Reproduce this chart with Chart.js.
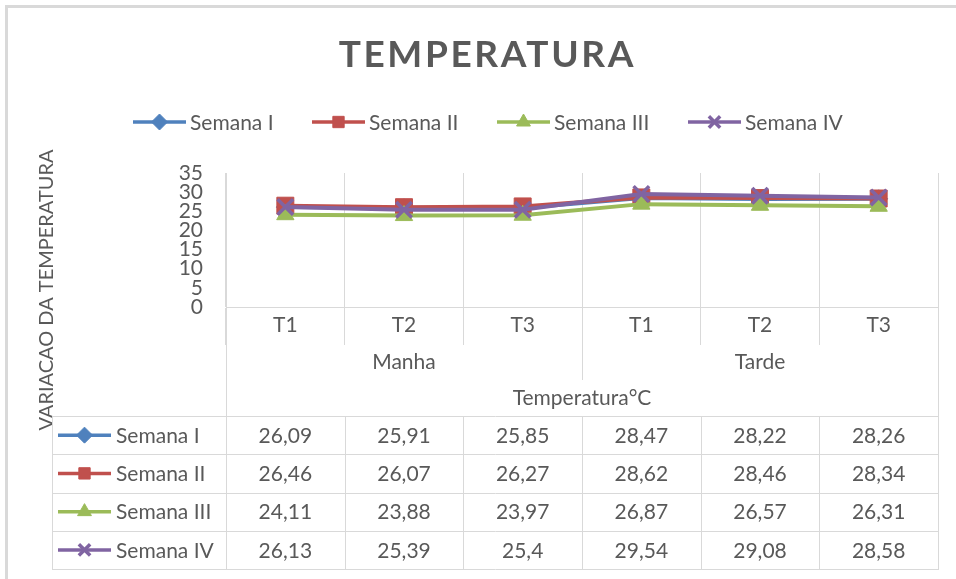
<!DOCTYPE html>
<html>
<head>
<meta charset="utf-8">
<script src="https://cdn.jsdelivr.net/npm/chart.js@4.4.1/dist/chart.umd.min.js"></script>
<style>
  html, body { margin: 0; padding: 0; background: #ffffff; }
  #wrap { position: relative; width: 956px; height: 579px; }
</style>
</head>
<body>
<div id="wrap"><canvas id="c" width="956" height="579"></canvas></div>
<script>
// ---- data ----
const chartTitle = 'TEMPERATURA';
const yAxisTitle = 'VARIACAO DA TEMPERATURA';
const xAxisTitle = 'Temperatura°C';
const groups = ['Manha', 'Tarde'];
const times = ['T1', 'T2', 'T3', 'T1', 'T2', 'T3'];
const seriesNames = ['Semana I', 'Semana II', 'Semana III', 'Semana IV'];
const semanaI   = [26.09, 25.91, 25.85, 28.47, 28.22, 28.26];
const semanaII  = [26.46, 26.07, 26.27, 28.62, 28.46, 28.34];
const semanaIII = [24.11, 23.88, 23.97, 26.87, 26.57, 26.31];
const semanaIV  = [26.13, 25.39, 25.40, 29.54, 29.08, 28.58];
const yMin = 0, yMax = 35, yStep = 5;

// ---- styles ----
const FONT = 'Lato, "Open Sans", "Liberation Sans", sans-serif';
const TXT = '#595959';
const GRID = '#d9d9d9';
const seriesStyles = [
  { color: '#4f81bd', pointStyle: 'rectRot',  radius: 9,  bw: 1 },
  { color: '#c0504d', pointStyle: 'rect',     radius: 12, bw: 1 },
  { color: '#9bbb59', pointStyle: 'triangle', radius: 10, bw: 1 },
  { color: '#8064a2', pointStyle: 'crossRot', radius: 11, bw: 3.5 }
];
const seriesData = [semanaI, semanaII, semanaIII, semanaIV];

const datasets = seriesData.map((d, i) => ({
  label: seriesNames[i],
  data: d,
  order: seriesData.length - i,
  borderColor: seriesStyles[i].color,
  backgroundColor: seriesStyles[i].color,
  pointBackgroundColor: seriesStyles[i].color,
  pointBorderColor: seriesStyles[i].color,
  pointStyle: seriesStyles[i].pointStyle,
  pointRadius: seriesStyles[i].radius,
  pointBorderWidth: seriesStyles[i].bw,
  borderWidth: 4,
  tension: 0,
  fill: false
}));

function fmt(v) { return String(v).replace('.', ','); }

function marker(ctx, st, x, y, r) {
  ctx.save();
  ctx.fillStyle = st.color;
  ctx.strokeStyle = st.color;
  ctx.lineWidth = st.bw;
  if (Chart.helpers && Chart.helpers.drawPoint) {
    Chart.helpers.drawPoint(ctx, { pointStyle: st.pointStyle, radius: r, borderWidth: st.bw, rotation: 0 }, x, y);
  }
  ctx.restore();
}
function lineMarker(ctx, st, x1, x2, y, r) {
  ctx.save();
  ctx.strokeStyle = st.color;
  ctx.lineWidth = 3.5;
  ctx.beginPath(); ctx.moveTo(x1, y); ctx.lineTo(x2, y); ctx.stroke();
  ctx.restore();
  marker(ctx, st, (x1 + x2) / 2, y, r);
}
function vline(ctx, x, y1, y2) { ctx.beginPath(); ctx.moveTo(Math.round(x) + 0.5, y1); ctx.lineTo(Math.round(x) + 0.5, y2); ctx.stroke(); }
function hline(ctx, y, x1, x2) { ctx.beginPath(); ctx.moveTo(x1, Math.round(y) + 0.5); ctx.lineTo(x2, Math.round(y) + 0.5); ctx.stroke(); }

const decor = {
  id: 'decor',
  afterDraw(chart) {
    const ctx = chart.ctx;
    const xs = chart.scales.x, ys = chart.scales.y;
    const n = times.length;
    const c = times.map((_, i) => xs.getPixelForValue(i));
    const b = [xs.left];
    for (let i = 1; i < n; i++) b.push((c[i - 1] + c[i]) / 2);
    b.push(xs.right);

    // frame
    ctx.save();
    ctx.fillStyle = GRID;
    ctx.fillRect(5, 5, 951, 3);
    ctx.fillRect(5, 5, 3, 574);
    ctx.restore();

    // title
    ctx.save();
    ctx.fillStyle = TXT;
    ctx.font = 'bold 37px ' + FONT;
    ctx.textBaseline = 'middle';
    ctx.textAlign = 'left';
    try { ctx.letterSpacing = '2.6px'; } catch (e) {}
    const tw = ctx.measureText(chartTitle).width - 2.6;
    ctx.fillText(chartTitle, 486 - tw / 2, 55);
    ctx.restore();

    // legend
    const legX = [133, 312, 497, 688];
    ctx.save();
    ctx.font = '21px ' + FONT;
    ctx.fillStyle = TXT;
    ctx.textBaseline = 'middle';
    seriesNames.forEach((name, i) => {
      lineMarker(ctx, seriesStyles[i], legX[i], legX[i] + 53, 122, 8);
      ctx.fillStyle = TXT;
      ctx.fillText(name, legX[i] + 57, 123);
    });
    ctx.restore();

    // y axis title
    ctx.save();
    ctx.translate(47, 290);
    ctx.rotate(-Math.PI / 2);
    ctx.font = '20px ' + FONT;
    ctx.fillStyle = TXT;
    ctx.textAlign = 'center';
    ctx.textBaseline = 'middle';
    ctx.fillText(yAxisTitle, 0, 0);
    ctx.restore();

    // category axis extra structure + data table grid
    const tTop = 416, rowH = 38.25, tBot = tTop + rowH * 4, tLeft = 52;
    ctx.save();
    ctx.strokeStyle = GRID;
    ctx.lineWidth = 1;
    vline(ctx, b[0], ys.top, tBot);
    vline(ctx, b[n], ys.top, tBot);
    vline(ctx, b[3], ys.bottom, 380);
    for (let r = 0; r <= 4; r++) hline(ctx, tTop + r * rowH, tLeft, b[n] + 1);
    vline(ctx, tLeft, tTop, tBot);
    for (let i = 1; i < n; i++) vline(ctx, b[i], tTop, tBot);
    ctx.restore();

    ctx.save();
    ctx.font = '21px ' + FONT;
    ctx.fillStyle = TXT;
    ctx.textAlign = 'center';
    ctx.textBaseline = 'middle';
    ctx.fillText(groups[0], (b[0] + b[3]) / 2, 362);
    ctx.fillText(groups[1], (b[3] + b[n]) / 2, 362);
    ctx.fillText(xAxisTitle, (b[0] + b[n]) / 2, 398);

    // data table
    seriesData.forEach((d, r) => {
      const yc = tTop + rowH * r + rowH / 2;
      d.forEach((v, i) => {
        ctx.fillStyle = TXT;
        ctx.textAlign = 'center';
        ctx.fillText(fmt(v), c[i], yc + 1);
      });
      lineMarker(ctx, seriesStyles[r], 58, 111, yc, 8);
      ctx.fillStyle = TXT;
      ctx.textAlign = 'left';
      ctx.fillText(seriesNames[r], 116, yc + 1);
    });
    ctx.restore();
  }
};

new Chart(document.getElementById('c'), {
  type: 'line',
  data: { labels: times, datasets: datasets },
  options: {
    responsive: false,
    animation: false,
    devicePixelRatio: 1,
    layout: { padding: { top: 173, right: 18, bottom: 0, left: 0 } },
    plugins: { legend: { display: false }, title: { display: false }, tooltip: { enabled: false } },
    scales: {
      x: {
        type: 'category',
        offset: true,
        grid: { display: true, offset: true, color: GRID, lineWidth: 1, drawTicks: true, tickLength: 38, tickColor: GRID },
        border: { display: true, color: GRID },
        ticks: { color: TXT, font: { family: FONT, size: 21 }, padding: -32, autoSkip: false, maxRotation: 0 },
        afterFit(s) { s.height = 272; }
      },
      y: {
        min: yMin, max: yMax,
        grid: { display: false, drawTicks: false },
        border: { display: true, color: GRID },
        ticks: { stepSize: yStep, color: TXT, font: { family: FONT, size: 21, lineHeight: 1 }, padding: 23, autoSkip: false },
        afterFit(s) { s.width = 226; }
      }
    }
  },
  plugins: [decor]
});
</script>
</body>
</html>
